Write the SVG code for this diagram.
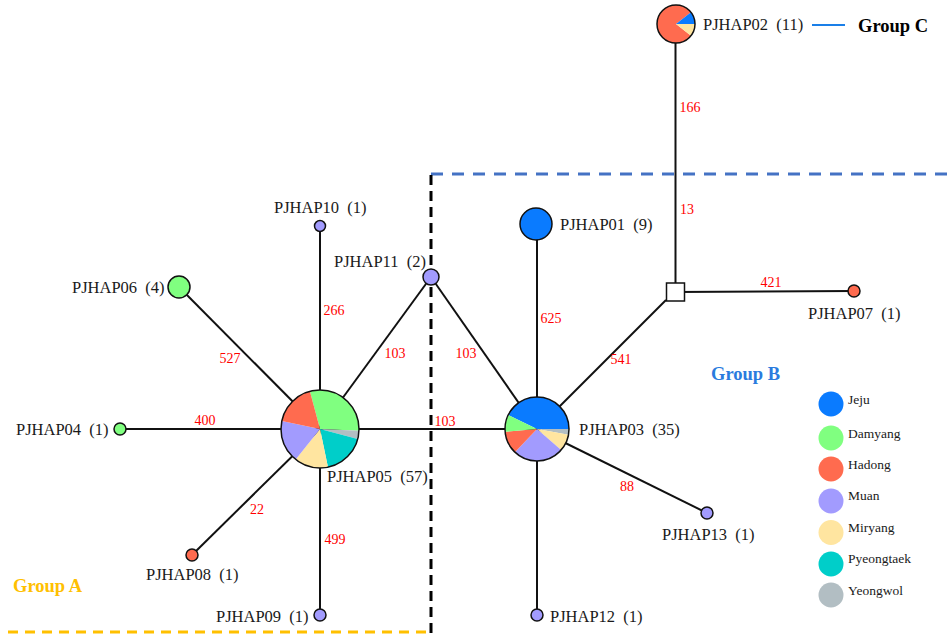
<svg xmlns="http://www.w3.org/2000/svg" width="951" height="639" viewBox="0 0 951 639">
  <style>
    .edge { stroke: #111; stroke-width: 2; fill: none; }
    .node { stroke: #111; stroke-width: 1.5; }
    .lbl { font-family: "Liberation Serif", "Times New Roman", serif; font-size: 16.5px; fill: #1a1a1a; white-space: pre; }
    .num { font-family: "Liberation Serif", "Times New Roman", serif; font-size: 14px; fill: #ff0000; text-anchor: middle; }
    .grp { font-family: "Liberation Serif", "Times New Roman", serif; font-size: 18.5px; font-weight: bold; }
    .leg { font-family: "Liberation Serif", "Times New Roman", serif; font-size: 13.5px; fill: #1a1a1a; }
    .jeju { fill: #0a7bff; }
    .damyang { fill: #80ff80; }
    .hadong { fill: #ff6b4f; }
    .muan { fill: #a29bfe; }
    .miryang { fill: #ffe5a0; }
    .pyeongtaek { fill: #00cec9; }
    .yeongwol { fill: #b2bec3; }
  </style>

  <rect width="951" height="639" fill="#ffffff"/>

  <!-- group boundaries -->
  <g id="boundaries">
    <line x1="431" y1="174" x2="951" y2="174" stroke="#4472c4" stroke-width="3" stroke-dasharray="12 9"/>
    <line x1="431" y1="175" x2="431" y2="639" stroke="#000" stroke-width="3" stroke-dasharray="10 6"/>
    <line x1="8" y1="632" x2="428" y2="632" stroke="#ffc000" stroke-width="3" stroke-dasharray="10 7"/>
    <line x1="812" y1="25" x2="845" y2="25" stroke="#1a7fe8" stroke-width="2"/>
  </g>

  <!-- connectors -->
  <g id="connectors">
    <line class="edge" x1="675.5" y1="43" x2="675.5" y2="292"/>
    <line class="edge" x1="675" y1="292" x2="854" y2="291"/>
    <line class="edge" x1="666" y1="300" x2="537" y2="429"/>
    <line class="edge" x1="537" y1="224" x2="537" y2="429"/>
    <line class="edge" x1="537" y1="429" x2="537" y2="615"/>
    <line class="edge" x1="537" y1="429" x2="707" y2="513"/>
    <line class="edge" x1="320" y1="429" x2="537" y2="429"/>
    <line class="edge" x1="431" y1="277" x2="320" y2="429"/>
    <line class="edge" x1="431" y1="277" x2="537" y2="429"/>
    <line class="edge" x1="320" y1="226" x2="320" y2="615"/>
    <line class="edge" x1="179" y1="287" x2="320" y2="429"/>
    <line class="edge" x1="120" y1="429" x2="320" y2="429"/>
    <line class="edge" x1="192" y1="555" x2="320" y2="429"/>
  </g>

  <!-- mutation counts -->
  <g id="mutations">
    <text class="num" x="690" y="112">166</text>
    <text class="num" x="687" y="214">13</text>
    <text class="num" x="771" y="287">421</text>
    <text class="num" x="621" y="364">541</text>
    <text class="num" x="551" y="323">625</text>
    <text class="num" x="395" y="358">103</text>
    <text class="num" x="466" y="358">103</text>
    <text class="num" x="445" y="426">103</text>
    <text class="num" x="334" y="315">266</text>
    <text class="num" x="230" y="363">527</text>
    <text class="num" x="205" y="425">400</text>
    <text class="num" x="257" y="514">22</text>
    <text class="num" x="335" y="544">499</text>
    <text class="num" x="627" y="491">88</text>
  </g>

  <!-- haplotype nodes -->
  <g id="PJHAP02">
    <path class="hadong" d="M676,24 L690.97,35.70 A19,19 0 1 1 690.97,12.30 Z"/>
    <path class="jeju" d="M676,24 L690.97,12.30 A19,19 0 0 1 695,24 Z"/>
    <path class="miryang" d="M676,24 L695,24 A19,19 0 0 1 690.97,35.70 Z"/>
    <circle class="node" cx="676" cy="24" r="19" fill="none"/>
    <text class="lbl" x="703" y="30">PJHAP02  (11)</text>
  </g>

  <g id="median">
    <rect class="node" x="666.5" y="283" width="18" height="18" fill="#fff"/>
  </g>

  <g id="PJHAP07">
    <circle class="node hadong" cx="854" cy="291" r="6"/>
    <text class="lbl" x="808" y="319">PJHAP07  (1)</text>
  </g>

  <g id="PJHAP01">
    <circle class="node jeju" cx="536" cy="224" r="16"/>
    <text class="lbl" x="560" y="230">PJHAP01  (9)</text>
  </g>

  <g id="PJHAP11">
    <circle class="node muan" cx="431" cy="277" r="8"/>
    <text class="lbl" x="426" y="267" text-anchor="end">PJHAP11  (2)</text>
  </g>

  <g id="PJHAP03">
    <path class="jeju" d="M537,429 L508.17,415.12 A32,32 0 0 1 569,429 Z"/>
    <path class="yeongwol" d="M537,429 L569,429 A32,32 0 0 1 568.48,434.72 Z"/>
    <path class="miryang" d="M537,429 L568.48,434.72 A32,32 0 0 1 561.11,450.04 Z"/>
    <path class="muan" d="M537,429 L561.11,450.04 A32,32 0 0 1 514.88,452.13 Z"/>
    <path class="hadong" d="M537,429 L514.88,452.13 A32,32 0 0 1 505.13,431.84 Z"/>
    <path class="damyang" d="M537,429 L505.13,431.84 A32,32 0 0 1 508.17,415.12 Z"/>
    <circle class="node" cx="537" cy="429" r="32" fill="none"/>
    <text class="lbl" x="579" y="435">PJHAP03  (35)</text>
  </g>

  <g id="PJHAP05">
    <path class="damyang" d="M320,429 L309.91,391.33 A39,39 0 0 1 358.97,430.63 Z"/>
    <path class="yeongwol" d="M320,429 L358.97,430.63 A39,39 0 0 1 357.67,439.09 Z"/>
    <path class="pyeongtaek" d="M320,429 L357.67,439.09 A39,39 0 0 1 327.98,467.18 Z"/>
    <path class="miryang" d="M320,429 L327.98,467.18 A39,39 0 0 1 295.62,459.44 Z"/>
    <path class="muan" d="M320,429 L295.62,459.44 A39,39 0 0 1 281.84,420.96 Z"/>
    <path class="hadong" d="M320,429 L281.84,420.96 A39,39 0 0 1 309.91,391.33 Z"/>
    <circle class="node" cx="320" cy="429" r="39" fill="none"/>
    <text class="lbl" x="327" y="482">PJHAP05  (57)</text>
  </g>

  <g id="PJHAP10">
    <circle class="node muan" cx="320" cy="226" r="5.5"/>
    <text class="lbl" x="274" y="213">PJHAP10  (1)</text>
  </g>

  <g id="PJHAP06">
    <circle class="node damyang" cx="179" cy="287" r="11"/>
    <text class="lbl" x="72" y="293">PJHAP06  (4)</text>
  </g>

  <g id="PJHAP04">
    <circle class="node damyang" cx="120" cy="429" r="6"/>
    <text class="lbl" x="16" y="435">PJHAP04  (1)</text>
  </g>

  <g id="PJHAP08">
    <circle class="node hadong" cx="192" cy="555" r="6"/>
    <text class="lbl" x="146" y="580">PJHAP08  (1)</text>
  </g>

  <g id="PJHAP09">
    <circle class="node muan" cx="320" cy="615" r="6"/>
    <text class="lbl" x="216" y="622">PJHAP09  (1)</text>
  </g>

  <g id="PJHAP12">
    <circle class="node muan" cx="537" cy="615" r="6"/>
    <text class="lbl" x="550" y="622">PJHAP12  (1)</text>
  </g>

  <g id="PJHAP13">
    <circle class="node muan" cx="707" cy="513" r="6"/>
    <text class="lbl" x="662" y="540">PJHAP13  (1)</text>
  </g>

  <!-- group names -->
  <g id="groups">
    <text class="grp" x="13" y="592" fill="#ffc000">Group A</text>
    <text class="grp" x="711" y="380" fill="#2a7bde">Group B</text>
    <text class="grp" x="858" y="32" fill="#000">Group C</text>
  </g>

  <!-- legend -->
  <g id="legend">
    <circle class="jeju" cx="831" cy="404" r="12.5"/>
    <text class="leg" x="848" y="404">Jeju</text>
    <circle class="damyang" cx="831" cy="438" r="12.5"/>
    <text class="leg" x="848" y="438">Damyang</text>
    <circle class="hadong" cx="831" cy="469" r="12.5"/>
    <text class="leg" x="848" y="469">Hadong</text>
    <circle class="muan" cx="831" cy="501" r="12.5"/>
    <text class="leg" x="848" y="500">Muan</text>
    <circle class="miryang" cx="831" cy="532.5" r="12.5"/>
    <text class="leg" x="848" y="532">Miryang</text>
    <circle class="pyeongtaek" cx="831" cy="564" r="12.5"/>
    <text class="leg" x="848" y="563">Pyeongtaek</text>
    <circle class="yeongwol" cx="831" cy="595" r="12.5"/>
    <text class="leg" x="848" y="595">Yeongwol</text>
  </g>
</svg>
